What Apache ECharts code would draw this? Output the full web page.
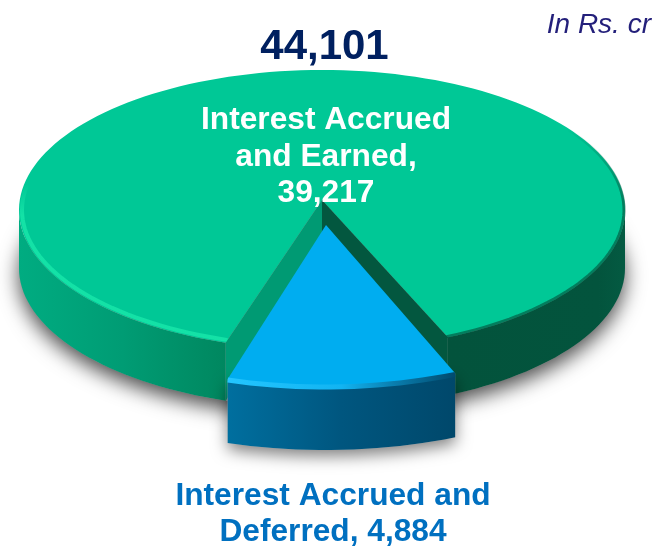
<!DOCTYPE html>
<html>
<head>
<meta charset="utf-8">
<title>Interest accrued</title>
<style>
    html, body { margin: 0; padding: 0; background: #fff; }
    #chart { width: 654px; height: 546px; }
</style>
<script src="https://cdn.jsdelivr.net/npm/echarts@6/dist/echarts.min.js"></script>
</head>
<body>
<div id="chart"></div>
<script>
const categories = ['Interest Accrued and Earned', 'Interest Accrued and Deferred'];
const values = [39217, 4884];
const totalLabel = '44,101';
const unitLabel = 'In Rs. cr';
const earnedLines = ['Interest Accrued', 'and Earned,', '39,217'];
const deferredLines = ['Interest Accrued and', 'Deferred, 4,884'];

const FONT = '"Liberation Sans", Arial, sans-serif';

// the pie is squashed into an ellipse, angles are measured from straight down, clockwise = right
const disk = { cx: 322, cy: 210, rx: 303, ry: 140, apexY: 200, depth: 58 };
const wedge = { cx: 325, cy: 226, rx: 334, ry: 160, apexX: 326, apexY: 225, depth: 64 };
const midAngle = 3;
const notchPad = 1.6;

const total = values[0] + values[1];
const halfSpan = 360 * values[1] / total / 2;

function rim(e, deg, dy = 0, shrink = 0) {
    const a = deg * Math.PI / 180;
    return [e.cx + (e.rx - shrink) * Math.sin(a), e.cy + (e.ry - shrink) * Math.cos(a) + dy];
}

function arc(e, from, to, dy = 0, shrink = 0) {
    const pts = [];
    const steps = Math.max(2, Math.ceil(Math.abs(to - from) / 2));
    for (let i = 0; i <= steps; i++) {
        pts.push(rim(e, from + (to - from) * i / steps, dy, shrink));
    }
    return pts;
}

function grad(stops, vertical) {
    return {
        type: 'linear', x: 0, y: 0, x2: vertical ? 0 : 1, y2: vertical ? 1 : 0,
        colorStops: stops.map(([offset, color]) => ({ offset, color }))
    };
}

function poly(points, style) {
    return { type: 'polygon', shape: { points }, style };
}

function line(points, style) {
    return { type: 'polyline', shape: { points }, style: Object.assign({ fill: null, lineCap: 'round' }, style) };
}

function band(e, from, to, depth) {
    return arc(e, from, to).concat(arc(e, to, from, depth));
}

function renderEarned() {
    const left = midAngle - halfSpan - notchPad;
    const right = midAngle + halfSpan + notchPad;
    const apex = [disk.cx, disk.apexY];
    const apexLow = [disk.cx, disk.apexY + disk.depth];
    const pl = rim(disk, left);
    const pr = rim(disk, right);
    const d = disk.depth;
    return {
        type: 'group',
        children: [
            // drop shadow
            poly(arc(disk, 0, 360, d), { fill: '#999', shadowColor: 'rgba(0,0,0,0.7)', shadowBlur: 20, shadowOffsetX: 0, shadowOffsetY: 8 }),
            // outer wall
            poly(band(disk, left, -90, d), { fill: grad([[0, '#00ac81'], [0.5, '#009c74'], [1, '#00875f']]) }),
            poly(band(disk, right, 90, d), { fill: grad([[0, '#03533c'], [0.85, '#03543d'], [1, '#045a42']]) }),
            // top face
            poly([apex].concat(arc(disk, right, 360 + left)), { fill: '#00c896' }),
            // rim bevel
            line(arc(disk, left, -100, 0, 3), { stroke: grad([[0, 'rgba(22,228,168,0)'], [0.2, 'rgba(22,228,168,0.9)'], [1, 'rgba(22,228,168,0.9)']], true), lineWidth: 4 }),
            line(arc(disk, right, 125, 0, 1), { stroke: grad([[0, 'rgba(3,86,63,0)'], [0.35, 'rgba(3,86,63,0.65)'], [1, 'rgba(3,86,63,0.65)']], true), lineWidth: 3 }),
            // walls of the gap left by the pulled out slice
            poly([apex, pl, [pl[0], pl[1] + d], apexLow], { fill: '#009a73' }),
            poly([apex, pr, [pr[0], pr[1] + d], apexLow], { fill: '#03573f' })
        ]
    };
}

function renderDeferred() {
    const left = midAngle - halfSpan;
    const right = midAngle + halfSpan;
    const d = wedge.depth;
    return {
        type: 'group',
        children: [
            poly(band(wedge, left, right, d), { fill: '#bbb', shadowColor: 'rgba(0,0,0,0.5)', shadowBlur: 16, shadowOffsetX: 0, shadowOffsetY: 6 }),
            poly(band(wedge, left, right, d), { fill: grad([[0, '#006f9f'], [0.5, '#00567f'], [1, '#00486b']]) }),
            poly([[wedge.apexX, wedge.apexY]].concat(arc(wedge, left, right)), { fill: '#00adf0' }),
            line(arc(wedge, left, right, 1, 0), { stroke: grad([[0, '#24c6ff'], [0.5, '#12b4f2'], [0.72, '#0a7fb0'], [1, '#00486b']]), lineWidth: 5, lineCap: 'butt' })
        ]
    };
}

function textBlock(lines, x, firstY, gap, font, fill) {
    return lines.map((t, i) => ({
        type: 'text',
        x: x,
        y: firstY + i * gap,
        z: 20,
        style: { text: t, font: font, fill: fill, textAlign: 'center', textVerticalAlign: 'middle' }
    }));
}

const chart = echarts.init(document.getElementById('chart'));
chart.setOption({
    animation: false,
    backgroundColor: '#fff',
    series: [{
        type: 'custom',
        coordinateSystem: 'none',
        silent: true,
        data: categories.map((name, i) => ({ name, value: values[i] })),
        renderItem: (params) => (params.dataIndex === 0 ? renderEarned() : renderDeferred())
    }],
    graphic: textBlock([totalLabel], 324.5, 47, 0, 'bold 42px ' + FONT, '#002060')
        .concat(textBlock(earnedLines, 326, 120.5, 36.5, 'bold 31.7px ' + FONT, '#ffffff'))
        .concat(textBlock(deferredLines, 333, 496.5, 36, 'bold 31.7px ' + FONT, '#0070c0'))
        .concat([{
            type: 'text',
            right: 3,
            top: 11,
            z: 20,
            style: { text: unitLabel, font: 'italic 28px ' + FONT, fill: '#231f7a' }
        }])
});
window.addEventListener('resize', () => chart.resize());
</script>
</body>
</html>
